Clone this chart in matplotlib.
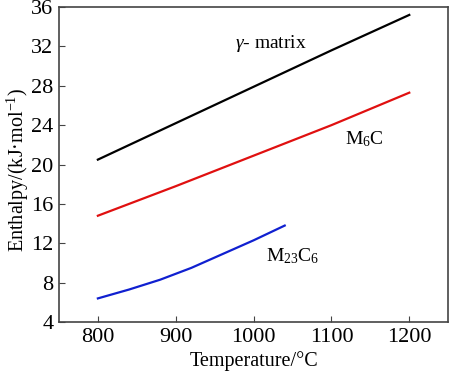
import matplotlib
matplotlib.use("Agg")
import matplotlib.pyplot as plt

plt.rcParams['font.family'] = ['Liberation Serif', 'DejaVu Serif']
plt.rcParams['mathtext.fontset'] = 'custom'
plt.rcParams['mathtext.rm'] = 'Liberation Serif'
plt.rcParams['mathtext.it'] = 'Liberation Serif:italic'

T_gamma = [800, 900, 1000, 1100, 1200]
H_gamma = [20.5, 24.2, 27.9, 31.6, 35.2]
T_m6c = [800, 900, 1000, 1100, 1200]
H_m6c = [14.8, 17.8, 20.9, 24.0, 27.3]
T_m23 = [800, 840, 880, 920, 960, 1000, 1040]
H_m23 = [6.4, 7.3, 8.3, 9.5, 10.9, 12.3, 13.8]

xticks = [800, 900, 1000, 1100, 1200]
yticks = [4, 8, 12, 16, 20, 24, 28, 32, 36]

fig = plt.figure(figsize=(4.5, 3.71), dpi=100)
ax = fig.add_axes([0.131, 0.132, 0.865, 0.849])
ax.plot(T_gamma, H_gamma, color='black', lw=1.6)
ax.plot(T_m6c, H_m6c, color='#e01010', lw=1.6)
ax.plot(T_m23, H_m23, color='#1020d0', lw=1.6)

ax.text(1022, 32.3, r'$\it{\gamma}$' + '- matrix', fontsize=14, ha='center', va='center')
ax.text(1142, 22.6, r'M$_6$C', fontsize=14, ha='center', va='center')
ax.text(1050, 10.7, r'M$_{23}$C$_6$', fontsize=14, ha='center', va='center')

ax.set_xlim(750, 1250)
ax.set_ylim(4, 36)
ax.set_xticks(xticks)
ax.set_yticks(yticks)
ax.tick_params(direction='in', length=4, labelsize=16, color='#444444', pad=4)
for s in ax.spines.values():
    s.set_color('#444444')
    s.set_linewidth(1.2)
ax.set_xlabel('Temperature/°C', fontsize=14.5, labelpad=3)
ax.set_ylabel('Enthalpy/(kJ·mol$^{-1}$)', fontsize=14.5)
ax.yaxis.set_label_coords(-0.072, 0.483)

fig.savefig('out.png', dpi=100)
